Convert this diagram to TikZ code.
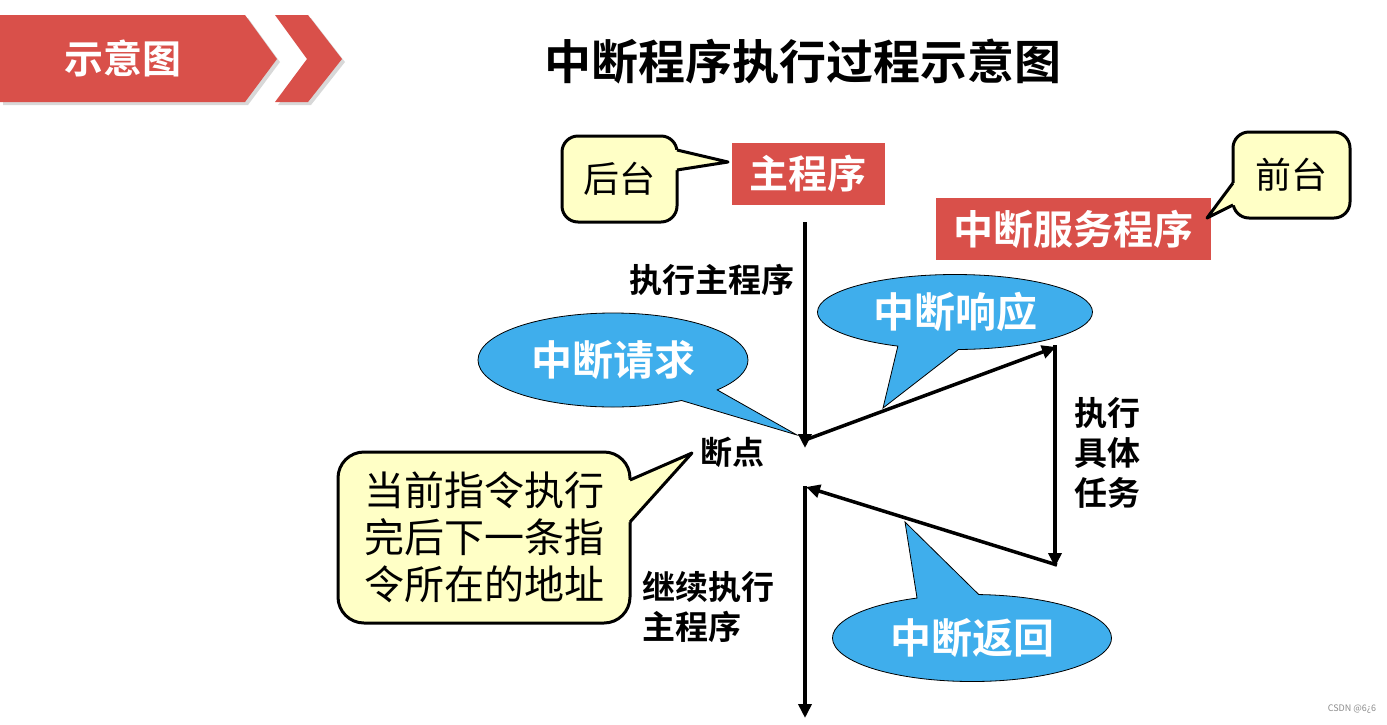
\documentclass[tikz,border=0pt]{standalone}
\usepackage{fontspec}
\newfontfamily\cjk{Noto Sans CJK SC}[BoldFont={Noto Sans CJK SC Bold}]
\usepackage{xcolor}
\usetikzlibrary{shapes,shapes.callouts,arrows.meta,shadows}

\definecolor{slidered}{HTML}{D9504A}
\definecolor{bubbleblue}{HTML}{3FAEEC}
\definecolor{tipyellow}{HTML}{FFFFC6}

\begin{document}
\begin{tikzpicture}[x=1pt,y=-1pt]
  \useasboundingbox[fill=white] (0,0) rectangle (1387,724);
  \tikzstyle{every node}=[font=\cjk]
  \tikzstyle{redbox}=[fill=slidered,text=white,inner sep=0pt,font=\cjk\bfseries\fontsize{39}{40}\selectfont]
  \tikzstyle{tipbox}=[draw=black,line width=3pt,fill=tipyellow,rounded corners=16pt,inner sep=0pt]
  \tikzstyle{bubble}=[ellipse callout,draw=black,line width=0.8pt,fill=bubbleblue,text=white,inner sep=0pt,callout pointer arc=26,font=\cjk\bfseries\fontsize{41}{42}\selectfont]
  \tikzstyle{lbl}=[inner sep=0pt,font=\cjk\bfseries\fontsize{33}{40}\selectfont]
  \tikzstyle{flow}=[line width=3.5pt,-{Triangle[length=14pt,width=13pt]}]
  \tikzstyle{banner}=[fill=slidered,drop shadow={shadow xshift=3pt,shadow yshift=-3pt,opacity=0.3}]

  % banner and title
  \fill[banner] (0,15) -- (245,15) -- (277,59) -- (245,102) -- (0,102) -- cycle;
  \fill[banner] (275,15) -- (308,15) -- (342,59) -- (308,102) -- (275,102) -- (307,59) -- cycle;
  \node[text=white,font=\cjk\bfseries\fontsize{39}{40}\selectfont] (tag) at (123,58) {示意图};
  \node[font=\cjk\bfseries\fontsize{47}{50}\selectfont] (title) at (803,62) {中断程序执行过程示意图};

  % programs
  \node[redbox,minimum width=153pt,minimum height=62pt] (main) at (808,174) {主程序};
  \node[redbox,minimum width=275pt,minimum height=62pt,font=\cjk\bfseries\fontsize{40}{42}\selectfont] (isr) at (1073,229) {中断服务程序};

  % yellow notes
  \node[tipbox,minimum width=115pt,minimum height=86pt,font=\cjk\fontsize{36}{40}\selectfont] (back) at (619.5,179) {后台};
  \fill[tipyellow] (670,150) -- (677,150) -- (728,162) -- (677,170) -- (670,170) -- cycle;
  \draw[line width=3pt,line join=round] (677,150) -- (728,162) -- (677,170);

  \node[tipbox,minimum width=117pt,minimum height=86pt,font=\cjk\fontsize{36}{40}\selectfont] (front) at (1291.5,175) {前台};
  \fill[tipyellow] (1240,183) -- (1233,183) -- (1207,218) -- (1233,205) -- (1240,205) -- cycle;
  \draw[line width=3pt,line join=round] (1233,183) -- (1207,218) -- (1233,205);

  \node[tipbox,rounded corners=26pt,minimum width=292pt,minimum height=171pt,align=center,font=\cjk\fontsize{40}{47}\selectfont] (addr) at (484,537.5) {当前指令执行\\完后下一条指\\令所在的地址};
  \fill[tipyellow] (622,480) -- (630,480) -- (692,453) -- (630,522) -- (622,522) -- cycle;
  \draw[line width=3pt,line join=round] (630,480) -- (692,453) -- (630,522);

  % flow
  \coordinate (mtop) at (805,222);
  \coordinate (brk) at (805,448);
  \coordinate (isrin) at (1056,347);
  \coordinate (isrout) at (1055,567);
  \coordinate (ret) at (806,487);
  \coordinate (mend) at (805,718);
  \draw[flow] (mtop) -- (brk);
  \draw[flow] (805,440) -- (isrin);
  \draw[flow] (1055,345) -- (isrout);
  \draw[flow] (1057,565) -- (ret);
  \draw[flow] (805,486) -- (mend);

  % bubbles
  \node[bubble,minimum width=270pt,minimum height=94pt,callout pointer arc=20,callout absolute pointer={(797,435)}] (req) at (613,360) {中断请求};
  \node[bubble,minimum width=275pt,minimum height=75pt,callout absolute pointer={(883,408)}] (ack) at (955,312) {中断响应};
  \node[bubble,minimum width=279pt,minimum height=87pt,callout absolute pointer={(905,522)}] (back2) at (972,638) {中断返回};

  % labels
  \node[lbl] (runmain) at (712,280) {执行主程序};
  \node[lbl,font=\cjk\bfseries\fontsize{32}{36}\selectfont] (bp) at (732,452) {断点};
  \node[lbl,align=center,font=\cjk\bfseries\fontsize{33}{40}\selectfont] (task) at (1107,453) {执行\\具体\\任务};
  \node[lbl,align=left,anchor=west] (goon) at (642,607) {继续执行\\主程序};

  \node[text=black!45,font=\cjk\fontsize{9}{10}\selectfont] (mark) at (1352,709) {CSDN @6¿6};
\end{tikzpicture}
\end{document}
